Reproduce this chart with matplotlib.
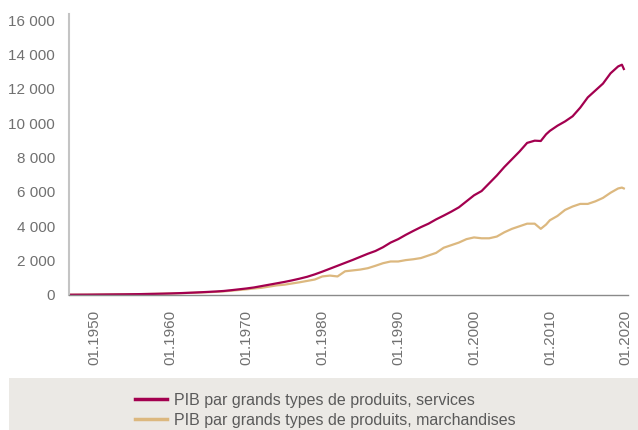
import matplotlib.pyplot as plt
from matplotlib.patches import Rectangle
from matplotlib.ticker import FuncFormatter

plt.rcParams['font.family'] = ['Liberation Sans', 'DejaVu Sans']

years = [1946.6, 1948, 1949, 1950, 1951, 1952, 1953, 1954, 1955, 1956, 1957, 1958, 1959,
         1960, 1961, 1962, 1963, 1964, 1965, 1966, 1967, 1968, 1969,
         1970, 1971, 1972, 1973, 1974, 1975, 1976, 1977, 1978, 1979,
         1980, 1981, 1982, 1983, 1984, 1985, 1986, 1987, 1988, 1989,
         1990, 1991, 1992, 1993, 1994, 1995, 1996, 1997, 1998, 1999,
         2000, 2001, 2002, 2003, 2004, 2005, 2006, 2007, 2008, 2008.8, 2009.5,
         2010, 2011, 2012, 2013, 2014, 2015, 2016, 2017, 2018, 2019, 2019.5, 2019.75]

services = [15, 18, 20, 24, 28, 32, 36, 40, 46, 52, 60, 68, 78,
            90, 105, 122, 140, 160, 182, 205, 235, 280, 330,
            380, 440, 520, 600, 680, 760, 850, 950, 1060, 1200,
            1360, 1530, 1700, 1870, 2040, 2220, 2400, 2560, 2780, 3050,
            3250, 3500, 3730, 3950, 4150, 4400, 4620, 4850, 5100, 5450,
            5800, 6050, 6500, 6950, 7450, 7900, 8350, 8850, 8980, 8960, 9350,
            9550, 9850, 10100, 10400, 10900, 11500, 11900, 12300, 12900, 13300, 13400, 13150]

marchandises = [15, 18, 20, 24, 28, 32, 36, 40, 46, 52, 60, 68, 78,
                88, 100, 115, 130, 148, 165, 185, 210, 250, 290,
                330, 380, 420, 490, 560, 600, 670, 740, 820, 900,
                1080, 1130, 1080, 1380, 1430, 1480, 1560, 1700, 1850, 1950,
                1950, 2030, 2080, 2150, 2300, 2450, 2750, 2900, 3050, 3250,
                3350, 3300, 3300, 3400, 3650, 3850, 4000, 4150, 4150, 3850, 4100,
                4350, 4600, 4950, 5150, 5300, 5300, 5450, 5650, 5950, 6200, 6250, 6200]

tick_years = [1950, 1960, 1970, 1980, 1990, 2000, 2010, 2020]
tick_labels = ['01.' + str(y) for y in tick_years]
y_ticks = [0, 2000, 4000, 6000, 8000, 10000, 12000, 14000, 16000]

label_s = 'PIB par grands types de produits, services'
label_m = 'PIB par grands types de produits, marchandises'

col_s = '#a3004f'
col_m = '#dcb87f'
grey = '#707070'

fig = plt.figure(figsize=(6.38, 4.3), dpi=100)
fig.patches.append(Rectangle((9 / 638, 0), 1, 52 / 430, transform=fig.transFigure,
                             facecolor='#ebe9e5', edgecolor='none', zorder=0))

ax = fig.add_axes([69 / 638, 1 - 295 / 430, (628 - 69) / 638, (295 - 14) / 430])
ax.plot(years, marchandises, color=col_m, lw=1.6, label=label_m)
ax.plot(years, services, color=col_s, lw=1.6, label=label_s)

ax.set_xlim(1946.6, 2020.3)
ax.set_ylim(0, 16350)
ax.set_xticks(tick_years)
ax.set_xticklabels(tick_labels, rotation=90)
ax.set_yticks(y_ticks)
ax.yaxis.set_major_formatter(FuncFormatter(lambda v, p: f'{int(v):,}'.replace(',', ' ')))
ax.tick_params(length=0, labelsize=11, labelcolor=grey)
ax.tick_params(axis='y', pad=10)
ax.tick_params(axis='x', pad=11)

for s in ['top', 'right']:
    ax.spines[s].set_visible(False)
ax.spines['left'].set_color('#c4c4c4')
ax.spines['left'].set_linewidth(1.5)
ax.spines['bottom'].set_color('#8a8a8a')
ax.spines['bottom'].set_linewidth(1.0)

h, l = ax.get_legend_handles_labels()
leg = fig.legend(h[::-1], l[::-1], loc='upper left', bbox_to_anchor=(135 / 638, 1 - 393 / 430),
                 frameon=False, fontsize=11.5, handlelength=2.0, handletextpad=0.45,
                 labelspacing=0.3, borderpad=0, borderaxespad=0)
for line in leg.get_lines():
    line.set_linewidth(2.5)
for t in leg.get_texts():
    t.set_color('#5a5a5a')

fig.savefig('out.png', dpi=100)
